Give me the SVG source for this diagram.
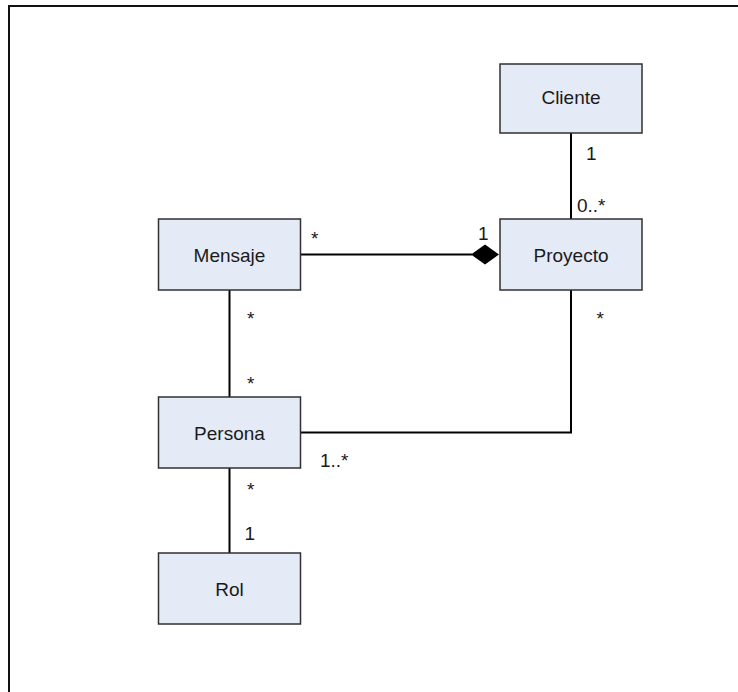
<svg xmlns="http://www.w3.org/2000/svg" width="738" height="692" viewBox="0 0 738 692">
<style>
.box{fill:#e4eaf6;stroke:#303030;stroke-width:1.5}
.name{font-family:"Liberation Sans",Arial,sans-serif;font-size:19px;fill:#1a1a1a;text-anchor:middle}
.lbl{font-family:"Liberation Sans",Arial,sans-serif;font-size:19px;fill:#1a1a1a}
.ln{fill:none;stroke:#000;stroke-width:2}
</style>
<path d="M9,692 V6 H738" fill="none" stroke="#111" stroke-width="2"/>
<g id="connectors">
<line class="ln" x1="571" y1="133" x2="571" y2="219"/>
<line class="ln" x1="301" y1="254.5" x2="472" y2="254.5"/>
<polygon points="471,254.5 485,244.5 499,254.5 485,264.5" fill="#000"/>
<line class="ln" x1="229.5" y1="290" x2="229.5" y2="397"/>
<polyline class="ln" points="301,432.5 571,432.5 571,290"/>
<line class="ln" x1="229.5" y1="468" x2="229.5" y2="553"/>
<text class="lbl" x="586" y="160">1</text>
<text class="lbl" x="577" y="211.5">0..*</text>
<text class="lbl" x="311" y="245">*</text>
<text class="lbl" x="478" y="239.5">1</text>
<text class="lbl" x="247" y="325">*</text>
<text class="lbl" x="247" y="389.5">*</text>
<text class="lbl" x="320" y="466.5">1..*</text>
<text class="lbl" x="596.5" y="324.5">*</text>
<text class="lbl" x="247" y="496">*</text>
<text class="lbl" x="244.5" y="540">1</text>
</g>
<g id="cliente"><rect class="box" x="500" y="64" width="142" height="69"/><text class="name" x="571" y="104">Cliente</text></g>
<g id="proyecto"><rect class="box" x="500" y="219" width="142" height="71"/><text class="name" x="571" y="261.5">Proyecto</text></g>
<g id="mensaje"><rect class="box" x="158.5" y="219" width="142" height="71"/><text class="name" x="229.5" y="261.5">Mensaje</text></g>
<g id="persona"><rect class="box" x="158.5" y="397" width="142" height="71"/><text class="name" x="229.5" y="439.5">Persona</text></g>
<g id="rol"><rect class="box" x="158.5" y="553" width="142" height="71"/><text class="name" x="229.5" y="595.5">Rol</text></g>
</svg>
